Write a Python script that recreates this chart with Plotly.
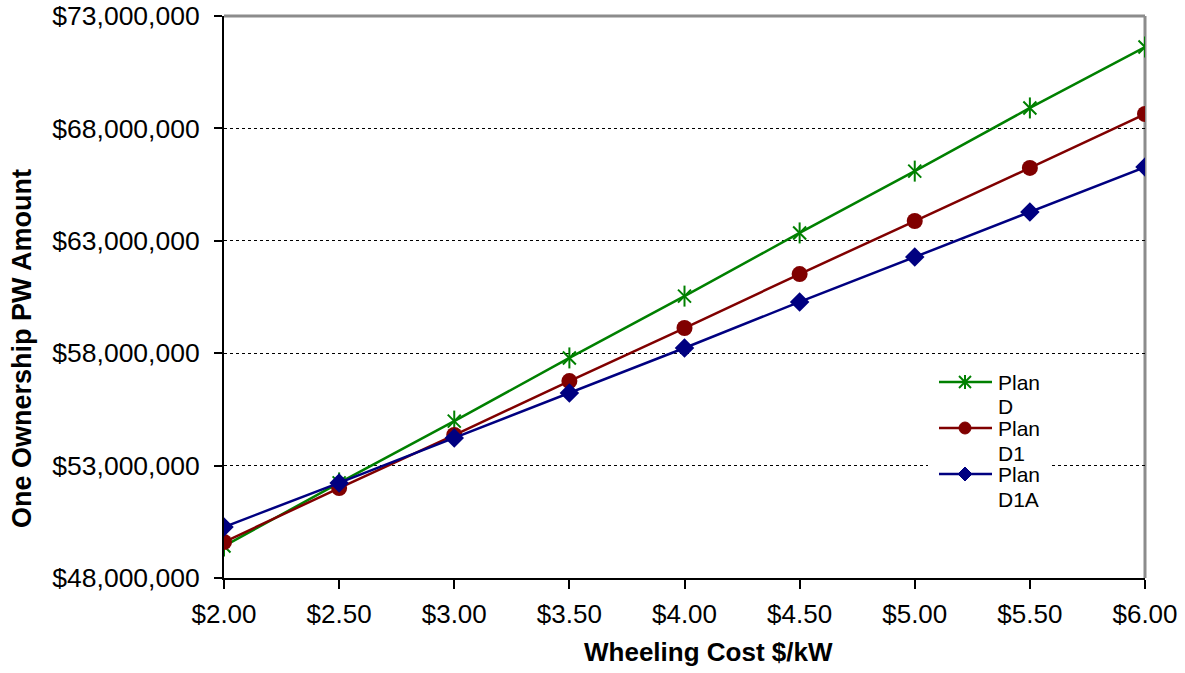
import plotly.graph_objects as go

# Wheeling cost ($/kW) on the x axis
wheeling_cost = [2.0, 2.5, 3.0, 3.5, 4.0, 4.5, 5.0, 5.5, 6.0]
x_tick_labels = ["$2.00", "$2.50", "$3.00", "$3.50", "$4.00", "$4.50", "$5.00", "$5.50", "$6.00"]

# One-ownership present-worth amounts (dollars)
plan_d = [49_420_000, 52_230_000, 54_980_000, 57_790_000, 60_540_000,
          63_350_000, 66_100_000, 68_910_000, 71_620_000]
plan_d1 = [49_600_000, 52_000_000, 54_360_000, 56_760_000, 59_120_000,
           61_520_000, 63_880_000, 66_240_000, 68_640_000]
plan_d1a = [50_270_000, 52_230_000, 54_230_000, 56_230_000, 58_230_000,
            60_280_000, 62_280_000, 64_280_000, 66_280_000]

y_tick_vals = [48_000_000, 53_000_000, 58_000_000, 63_000_000, 68_000_000, 73_000_000]
y_tick_labels = ["$48,000,000", "$53,000,000", "$58,000,000", "$63,000,000",
                 "$68,000,000", "$73,000,000"]

series_names = [("Plan", "D"), ("Plan", "D1"), ("Plan", "D1A")]
GREEN, RED, BLUE = "#008000", "#800000", "#000080"

FONT = "Liberation Sans, Arial, sans-serif"
W, H = 1185, 673
L, R, T, B = 224, 40, 16, 95
PW, PH = W - L - R, H - T - B


def px(xp):
    """Pixel column -> paper x."""
    return (xp - L) / PW


def py(yp):
    """Pixel row -> paper y."""
    return (H - B - yp) / PH


fig = go.Figure()

# Plan D: star marker drawn as an X with a vertical bar
fig.add_trace(go.Scatter(
    x=wheeling_cost, y=plan_d, name="Plan D", mode="lines+markers",
    line=dict(color=GREEN, width=2.5),
    marker=dict(symbol="x-thin-open", size=13, color=GREEN, line=dict(color=GREEN, width=2)),
))
fig.add_trace(go.Scatter(
    x=wheeling_cost, y=plan_d, name="Plan D", mode="markers", hoverinfo="skip",
    marker=dict(symbol="line-ns-open", size=15, color=GREEN, line=dict(color=GREEN, width=2)),
))
fig.add_trace(go.Scatter(
    x=wheeling_cost, y=plan_d1, name="Plan D1", mode="lines+markers",
    line=dict(color=RED, width=2.5),
    marker=dict(symbol="circle", size=16, color=RED),
))
fig.add_trace(go.Scatter(
    x=wheeling_cost, y=plan_d1a, name="Plan D1A", mode="lines+markers",
    line=dict(color=BLUE, width=2.5),
    marker=dict(symbol="diamond", size=15, color=BLUE),
))

shapes = []
annotations = []

# gray frame on the top and right edges of the plot area
shapes.append(dict(type="line", xref="paper", yref="paper", x0=0, x1=1, y0=1, y1=1,
                   line=dict(color="#8c8c8c", width=3), layer="above"))
shapes.append(dict(type="line", xref="paper", yref="paper", x0=1, x1=1, y0=0, y1=1,
                   line=dict(color="#8c8c8c", width=3), layer="below"))

# legend: white box, line swatch with marker, two-line label
shapes.append(dict(type="rect", xref="paper", yref="paper",
                   x0=px(928), x1=px(1052), y0=py(512), y1=py(368),
                   fillcolor="white", line=dict(width=0), layer="above"))
legend_colors = [GREEN, RED, BLUE]
for i, ((first, second), col) in enumerate(zip(series_names, legend_colors)):
    yc = 382 + 46 * i
    shapes.append(dict(type="line", xref="paper", yref="paper",
                       x0=px(939), x1=px(992), y0=py(yc), y1=py(yc),
                       line=dict(color=col, width=2.5), layer="above"))
    cx = 965
    if i == 0:
        for dx, dy in ((6, 6), (6, -6)):
            shapes.append(dict(type="line", xref="paper", yref="paper",
                               x0=px(cx - dx), x1=px(cx + dx), y0=py(yc - dy), y1=py(yc + dy),
                               line=dict(color=col, width=2), layer="above"))
        shapes.append(dict(type="line", xref="paper", yref="paper",
                           x0=px(cx), x1=px(cx), y0=py(yc - 7), y1=py(yc + 7),
                           line=dict(color=col, width=2), layer="above"))
    elif i == 1:
        shapes.append(dict(type="circle", xref="paper", yref="paper",
                           x0=px(cx - 6), x1=px(cx + 6), y0=py(yc + 6), y1=py(yc - 6),
                           fillcolor=col, line=dict(color=col, width=1), layer="above"))
    else:
        path = (f"M {px(cx - 7)} {py(yc)} L {px(cx)} {py(yc - 7)} "
                f"L {px(cx + 7)} {py(yc)} L {px(cx)} {py(yc + 7)} Z")
        shapes.append(dict(type="path", xref="paper", yref="paper", path=path,
                           fillcolor=col, line=dict(color=col, width=1), layer="above"))
    for j, txt in enumerate((first, second)):
        annotations.append(dict(text=txt, xref="paper", yref="paper",
                                x=px(996), y=py(yc + 25 * j), xanchor="left", yanchor="middle",
                                showarrow=False,
                                font=dict(family=FONT, size=21, color="black")))

# axis titles
annotations.append(dict(text="<b>Wheeling Cost $/kW</b>", xref="paper", yref="paper",
                        x=px(708), y=py(652), xanchor="center", yanchor="middle",
                        showarrow=False,
                        font=dict(family=FONT, size=26, color="black")))
annotations.append(dict(text="<b>One Ownership PW Amount</b>", xref="paper", yref="paper",
                        x=px(22), y=py(349), xanchor="center", yanchor="middle",
                        textangle=-90, showarrow=False,
                        font=dict(family=FONT, size=27, color="black")))

fig.update_layout(
    width=W, height=H,
    margin=dict(l=L, r=R, t=T, b=B, autoexpand=False),
    paper_bgcolor="white", plot_bgcolor="white",
    font=dict(family=FONT, size=21, color="black"),
    showlegend=False,
    shapes=shapes,
    annotations=annotations,
    xaxis=dict(
        range=[2.0, 6.0], tickvals=wheeling_cost, ticktext=x_tick_labels,
        showgrid=False, zeroline=False, automargin=False,
        showline=True, linecolor="black", linewidth=2,
        ticks="outside", ticklen=9, tickwidth=2, tickcolor="black",
        ticklabelstandoff=3,
        tickfont=dict(family=FONT, size=26, color="black"),
    ),
    yaxis=dict(
        range=[48_000_000, 73_000_000], tickvals=y_tick_vals, ticktext=y_tick_labels,
        showgrid=True, gridcolor="black", gridwidth=1, griddash="dot",
        zeroline=False, automargin=False,
        showline=True, linecolor="black", linewidth=2,
        ticks="outside", ticklen=8, tickwidth=2, tickcolor="black",
        ticklabelstandoff=9,
        tickfont=dict(family=FONT, size=26.5, color="black"),
    ),
)

fig.write_html("out.html")
